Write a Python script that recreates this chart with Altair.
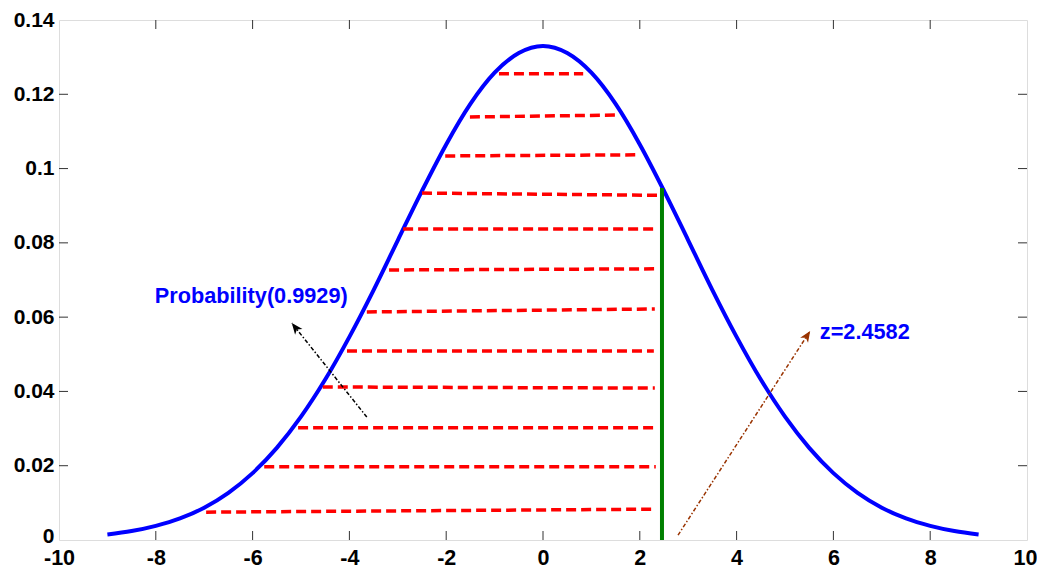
import altair as alt
import pandas as pd

# ---- data ----
curve_x = [-9, -8.5, -8, -7.5, -7, -6.5, -6, -5.5, -5, -4.5, -4, -3.5, -3, -2.5, -2, -1.5, -1, -0.5, 0,
           0.5, 1, 1.5, 2, 2.5, 3, 3.5, 4, 4.5, 5, 5.5, 6, 6.5, 7, 7.5, 8, 8.5, 9]
curve_y = [0.0015, 0.0024, 0.0038, 0.0058, 0.0087, 0.0127, 0.0180, 0.0248, 0.0332, 0.0432, 0.0547,
           0.0673, 0.0807, 0.0940, 0.1065, 0.1174, 0.1258, 0.1311, 0.1330,
           0.1311, 0.1258, 0.1174, 0.1065, 0.0940, 0.0807, 0.0673, 0.0547, 0.0432, 0.0332, 0.0248,
           0.0180, 0.0127, 0.0087, 0.0058, 0.0038, 0.0024, 0.0015]

# red dashed horizontal lines: left x, right x, left y, right y
dash_x1 = [-0.91, -1.51, -2.02, -2.50, -2.89, -3.18, -3.64, -4.05, -4.55, -5.06, -5.76, -6.96]
dash_x2 = [0.83, 1.53, 1.96, 2.40, 2.36, 2.33, 2.31, 2.29, 2.31, 2.36, 2.33, 2.33]
dash_y1 = [0.1255, 0.1139, 0.1034, 0.0934, 0.0837, 0.0727, 0.0614, 0.0509, 0.0412, 0.0302, 0.0197, 0.0075]
dash_y2 = [0.1255, 0.1144, 0.1037, 0.0928, 0.0837, 0.0730, 0.0622, 0.0509, 0.0409, 0.0302, 0.0197, 0.0083]

z_value = 2.4582
z_height = 0.0948

# annotations
arrow_names = ["prob", "z"]
arrow_x_tail = [-3.64, 2.79]
arrow_y_tail = [0.0331, 0.0013]
arrow_x_tip = [-5.19, 5.52]
arrow_y_tip = [0.0584, 0.0563]
arrow_angle = [321.4, 32.9]
arrow_color = ["#000000", "#993300"]

label_text = ["Probability(0.9929)", "z=2.4582"]
label_x = [-8.02, 5.72]
label_y = [0.0637, 0.0540]

x_ticks = [-10, -8, -6, -4, -2, 0, 2, 4, 6, 8, 10]
y_ticks = [0, 0.02, 0.04, 0.06, 0.08, 0.1, 0.12, 0.14]

W, H = 968, 520
FONT = "Liberation Sans"

xs = alt.Scale(domain=[-10, 10], nice=False, zero=False)
ys = alt.Scale(domain=[0, 0.14], nice=False, zero=False)

curve_df = pd.DataFrame({"x": curve_x, "y": curve_y})
dash_df = pd.DataFrame({"x1": dash_x1, "x2": dash_x2, "y1": dash_y1, "y2": dash_y2})
green_df = pd.DataFrame({"x": [z_value], "y1": [0.0], "y2": [z_height]})
arrow_df = pd.DataFrame({"name": arrow_names, "xt": arrow_x_tail, "yt": arrow_y_tail,
                         "xh": arrow_x_tip, "yh": arrow_y_tip, "angle": arrow_angle,
                         "color": arrow_color})
label_df = pd.DataFrame({"text": label_text, "x": label_x, "y": label_y})
xt_df = pd.DataFrame({"x": x_ticks[1:-1]})
yt_df = pd.DataFrame({"y": y_ticks[1:-1]})

base_axes = alt.Chart(curve_df).mark_line(
    color="#0000FF", strokeWidth=4, interpolate="monotone"
).encode(
    x=alt.X("x:Q", scale=xs, title=None,
            axis=alt.Axis(values=x_ticks, labelExpr="'' + datum.value", tickSize=0,
                          domain=False, grid=False, labelPadding=7, labelFlush=False,
                          labelOffset={"condition": {"test": "datum.value == 10", "value": -2},
                                       "value": 0},
                          labelFont=FONT, labelFontSize=21.5, labelFontWeight="bold",
                          labelColor="black")),
    y=alt.Y("y:Q", scale=ys, title=None,
            axis=alt.Axis(values=y_ticks, format="~g", tickSize=0, domain=False, grid=False,
                          labelPadding=5, labelFlush=False,
                          labelOffset={"condition": {"test": "datum.value == 0", "value": -4},
                                       "value": 0},
                          labelFont=FONT, labelFontSize=21,
                          labelFontWeight="bold", labelColor="black")),
)

dashes = alt.Chart(dash_df).mark_rule(
    color="#FF0000", strokeWidth=3.5, strokeDash=[10, 5], strokeCap="butt"
).encode(x=alt.X("x1:Q", scale=xs), x2="x2:Q", y=alt.Y("y1:Q", scale=ys), y2="y2:Q")

green = alt.Chart(green_df).mark_rule(color="#008000", strokeWidth=4).encode(
    x=alt.X("x:Q", scale=xs), y=alt.Y("y1:Q", scale=ys), y2="y2:Q")

arrow_lines = alt.Chart(arrow_df).mark_rule(strokeWidth=1.5, strokeDash=[4, 2, 1.5, 2]).encode(
    x=alt.X("xt:Q", scale=xs), x2="xh:Q", y=alt.Y("yt:Q", scale=ys), y2="yh:Q",
    color=alt.Color("color:N", scale=None))

arrow_heads = alt.Chart(arrow_df).mark_point(
    shape="M0,0 L0.42,1 L0,0.72 L-0.42,1 Z", filled=True, size=500, opacity=1
).encode(
    x=alt.X("xh:Q", scale=xs), y=alt.Y("yh:Q", scale=ys),
    angle=alt.Angle("angle:Q", scale=None),
    color=alt.Color("color:N", scale=None))

labels = alt.Chart(label_df).mark_text(
    align="left", baseline="alphabetic", font=FONT, fontSize=21.7, fontWeight="bold", color="#0000FF"
).encode(x=alt.X("x:Q", scale=xs), y=alt.Y("y:Q", scale=ys), text="text:N")

tick_style = dict(color="#333333", strokeWidth=1)
bottom_ticks = alt.Chart(xt_df).mark_rule(**tick_style).encode(
    x=alt.X("x:Q", scale=xs), y=alt.value(H), y2=alt.value(H - 9))
top_ticks = alt.Chart(xt_df).mark_rule(**tick_style).encode(
    x=alt.X("x:Q", scale=xs), y=alt.value(0), y2=alt.value(9))
left_ticks = alt.Chart(yt_df).mark_rule(**tick_style).encode(
    y=alt.Y("y:Q", scale=ys), x=alt.value(0), x2=alt.value(9))
right_ticks = alt.Chart(yt_df).mark_rule(**tick_style).encode(
    y=alt.Y("y:Q", scale=ys), x=alt.value(W), x2=alt.value(W - 9))

chart = alt.layer(
    base_axes, dashes, green, arrow_lines, arrow_heads, labels,
    bottom_ticks, top_ticks, left_ticks, right_ticks
).properties(
    width=W, height=H,
    autosize=alt.AutoSizeParams(type="none"),
    padding={"left": 51, "top": 12, "right": 10, "bottom": 30},
).configure_view(
    stroke="#000000", strokeWidth=1.5
).configure(background="white")

chart.save("out.html", embed_options={"renderer": "svg", "actions": False})
